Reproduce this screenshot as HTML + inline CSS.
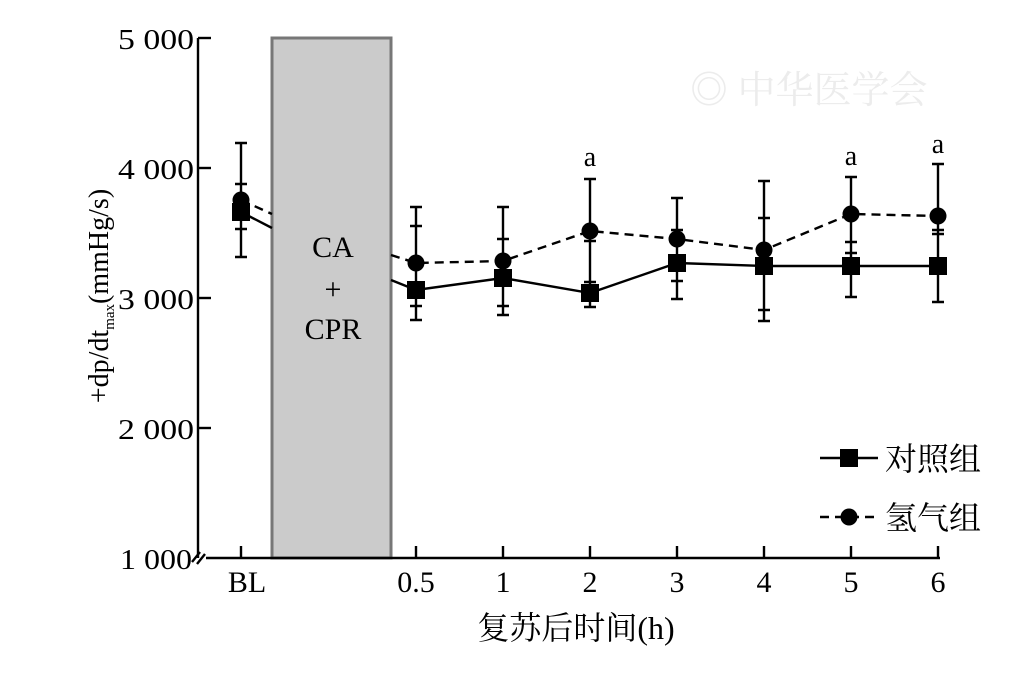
<!DOCTYPE html>
<html><head><style>body{margin:0;background:#fff}</style></head><body>
<svg width="1030" height="674" xmlns="http://www.w3.org/2000/svg" font-family="Liberation Serif, Noto Serif CJK SC, serif">
<rect x="272" y="38" width="119" height="520" fill="#cbcbcb" stroke="#777" stroke-width="3"/>
<g stroke="#000" stroke-width="2.4" fill="none">
<line x1="198" y1="38" x2="198" y2="558"/>
<line x1="198" y1="38" x2="211" y2="38"/><line x1="198" y1="168" x2="211" y2="168"/><line x1="198" y1="298" x2="211" y2="298"/><line x1="198" y1="428" x2="211" y2="428"/>
<line x1="206" y1="558" x2="940" y2="558"/>
<path d="M192 562 L200 552 M197 564 L205 554"/>
<g>
<line x1="241" y1="558" x2="241" y2="546"/><line x1="416" y1="558" x2="416" y2="546"/><line x1="503" y1="558" x2="503" y2="546"/><line x1="590" y1="558" x2="590" y2="546"/><line x1="677" y1="558" x2="677" y2="546"/><line x1="764" y1="558" x2="764" y2="546"/><line x1="851" y1="558" x2="851" y2="546"/><line x1="938" y1="558" x2="938" y2="546"/>
</g>
<path d="M241 143V229M235 143h12M235 229h12 M241 184V257M235 184h12M235 257h12
M416 207V306M410 207h12M410 306h12 M416 226V320M410 226h12M410 320h12
M503 207V306M497 207h12M497 306h12 M503 239V315M497 239h12M497 315h12
M590 179V282M584 179h12M584 282h12 M590 241V307M584 241h12M584 307h12
M677 198V281M671 198h12M671 281h12 M677 230V299M671 230h12M671 299h12
M764 181V310M758 181h12M758 310h12 M764 218V321M758 218h12M758 321h12
M851 177V253M845 177h12M845 253h12 M851 242V297M845 242h12M845 297h12
M938 164V234M932 164h12M932 234h12 M938 230V302M932 230h12M932 302h12"/>
<polyline points="241,212 272,228" /><polyline points="391,280 416,290 503,278 590,293 677,263 764,266 851,266 938,266"/>
<polyline stroke-dasharray="9,6" points="241,200 272,214"/><polyline stroke-dasharray="9,6" points="391,255 416,263 503,261 590,231 677,239 764,250 851,214 938,216"/>
<line x1="820" y1="458" x2="878" y2="458"/><line x1="820" y1="517" x2="878" y2="517" stroke-dasharray="9,6"/>
</g>
<g fill="#000">
<rect x="232" y="203" width="18" height="18"/><rect x="407" y="281" width="18" height="18"/><rect x="494" y="269" width="18" height="18"/><rect x="581" y="284" width="18" height="18"/><rect x="668" y="254" width="18" height="18"/><rect x="755" y="257" width="18" height="18"/><rect x="842" y="257" width="18" height="18"/><rect x="929" y="257" width="18" height="18"/>
<circle cx="241" cy="200" r="8.5"/><circle cx="416" cy="263" r="8.5"/><circle cx="503" cy="261" r="8.5"/><circle cx="590" cy="231" r="8.5"/><circle cx="677" cy="239" r="8.5"/><circle cx="764" cy="250" r="8.5"/><circle cx="851" cy="214" r="8.5"/><circle cx="938" cy="216" r="8.5"/>
<rect x="840" y="449" width="18" height="18"/><circle cx="849" cy="517" r="8.5"/>
</g>
<g font-size="29" text-anchor="end">
<text x="194" y="49" textLength="76" lengthAdjust="spacingAndGlyphs">5 000</text><text x="194" y="179" textLength="76" lengthAdjust="spacingAndGlyphs">4 000</text><text x="194" y="309" textLength="76" lengthAdjust="spacingAndGlyphs">3 000</text><text x="194" y="439" textLength="76" lengthAdjust="spacingAndGlyphs">2 000</text><text x="192" y="569" textLength="72" lengthAdjust="spacingAndGlyphs">1 000</text>
</g>
<g font-size="30" text-anchor="middle">
<text x="247" y="592">BL</text><text x="416" y="592">0.5</text><text x="503" y="592">1</text><text x="590" y="592">2</text><text x="677" y="592">3</text><text x="764" y="592">4</text><text x="851" y="592">5</text><text x="938" y="592">6</text>
<text x="576" y="639" font-size="32">复苏后时间(h)</text>
<text x="333" y="257">CA</text><text x="333" y="299">+</text><text x="333" y="339">CPR</text>
<text x="590" y="166" font-size="28">a</text><text x="851" y="165" font-size="28">a</text><text x="938" y="153" font-size="28">a</text>
</g>
<text font-size="32" x="885" y="470">对照组</text><text font-size="32" x="885" y="529">氢气组</text>
<text font-size="28" text-anchor="middle" transform="translate(108,296) rotate(-90)">+dp/dt<tspan font-size="15" dy="6">max</tspan><tspan dy="-6">(mmHg/s)</tspan></text>
<text x="690" y="103" font-size="38" fill="#ececec">◎ 中华医学会</text>
</svg>
</body></html>
